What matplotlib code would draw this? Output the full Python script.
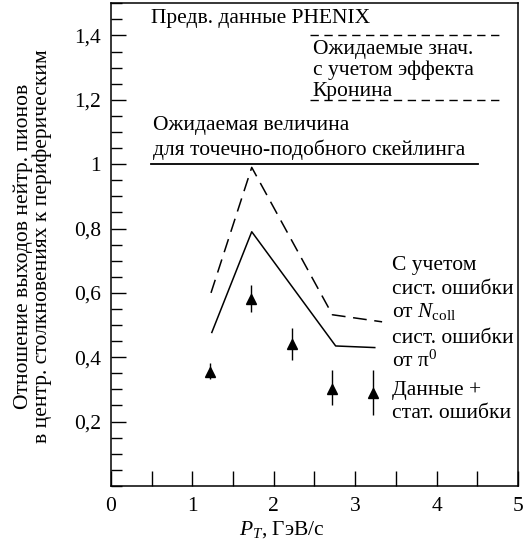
import numpy as np
import matplotlib
matplotlib.use("Agg")
import matplotlib.pyplot as plt
from matplotlib.ticker import MultipleLocator, FixedLocator, FuncFormatter

plt.rcParams["font.family"] = ["Liberation Serif", "DejaVu Serif"]
plt.rcParams["mathtext.fontset"] = "custom"
plt.rcParams["mathtext.rm"] = "Liberation Serif"
plt.rcParams["mathtext.it"] = "Liberation Serif:italic"

# ─── Data ───
pt_data = [1.22, 1.72, 2.22, 2.72, 3.22]
ratio_data = [0.353, 0.58, 0.44, 0.30, 0.29]
err_lo = [0.02, 0.04, 0.05, 0.05, 0.07]
err_hi = [0.03, 0.045, 0.05, 0.06, 0.07]

pt_pi0 = [1.24, 1.73, 2.76, 3.24]
ratio_pi0 = [0.477, 0.79, 0.435, 0.43]

pt_ncoll = [1.23, 1.73, 2.72, 3.33]
ratio_ncoll = [0.60, 0.99, 0.532, 0.51]

scaling_x = [0.49, 4.51]
scaling_y = 1.0
cronin_x = [2.45, 4.83]
cronin_y = [1.4, 1.2]

fs = 15.5

fig = plt.figure(figsize=(5.25, 5.46), dpi=100)
ax = fig.add_axes([0.211, 0.110, 0.776, 0.884])

ax.errorbar(pt_data, ratio_data, yerr=[err_lo, err_hi], fmt="^", color="black",
            markersize=6.5, elinewidth=1.0, capsize=0)
ax.plot(pt_pi0, ratio_pi0, color="black", lw=1.1)
ax.plot(pt_ncoll, ratio_ncoll, color="black", lw=1.1, dashes=(9, 5))
ax.plot(scaling_x, [scaling_y, scaling_y], color="black", lw=1.3)
for yv in cronin_y:
    ax.plot(cronin_x, [yv, yv], color="black", lw=1.0, dashes=(6, 4))

# Annotations
ax.text(0.49, 1.44, "Предв. данные PHENIX", fontsize=fs)
ax.text(2.48, 1.342, "Ожидаемые знач.", fontsize=fs)
ax.text(2.48, 1.277, "с учетом эффекта", fontsize=fs)
ax.text(2.48, 1.2125, "Кронина", fontsize=fs)
ax.text(0.52, 1.107, "Ожидаемая величина", fontsize=fs)
ax.text(0.52, 1.029, "для точечно-подобного скейлинга", fontsize=fs)

right_lines = [
    (0.670, "С учетом"),
    (0.597, "сист. ошибки"),
    (0.525, r"от $N_{\mathrm{coll}}$"),
    (0.444, "сист. ошибки"),
    (0.369, r"от $\mathrm{\pi}^{0}$"),
    (0.284, "Данные +"),
    (0.2125, "стат. ошибки"),
]
for yv, s in right_lines:
    ax.text(3.45, yv, s, fontsize=fs)

ax.set_xlim(0, 5)
ax.set_ylim(0, 1.5)
ax.xaxis.set_major_locator(MultipleLocator(1))
ax.xaxis.set_minor_locator(MultipleLocator(0.5))
ax.yaxis.set_major_locator(FixedLocator([0.2, 0.4, 0.6, 0.8, 1.0, 1.2, 1.4]))
ax.yaxis.set_minor_locator(MultipleLocator(0.05))
ax.yaxis.set_major_formatter(FuncFormatter(lambda v, p: f"{v:g}".replace(".", ",")))
ax.xaxis.set_major_formatter(FuncFormatter(lambda v, p: f"{v:g}"))
ax.tick_params(which="both", direction="in", top=False, right=False, labelsize=fs, width=1)
ax.tick_params(axis="y", which="major", length=11, pad=7)
ax.tick_params(axis="y", which="minor", length=8)
ax.tick_params(axis="x", which="both", length=11, pad=8)
for sp in ax.spines.values():
    sp.set_linewidth(1.1)

fig.text(282 / 525, 1 - 530 / 546, r"$P_T$, ГэВ/с", fontsize=fs, ha="center", va="center")
fig.text(33 / 525, 1 - 246 / 546,
         "Отношение выходов нейтр. пионов\nв центр. столкновениях к периферическим",
         fontsize=fs, ha="center", va="center", rotation=90, linespacing=1.0)

fig.savefig("out.png", dpi=100)
